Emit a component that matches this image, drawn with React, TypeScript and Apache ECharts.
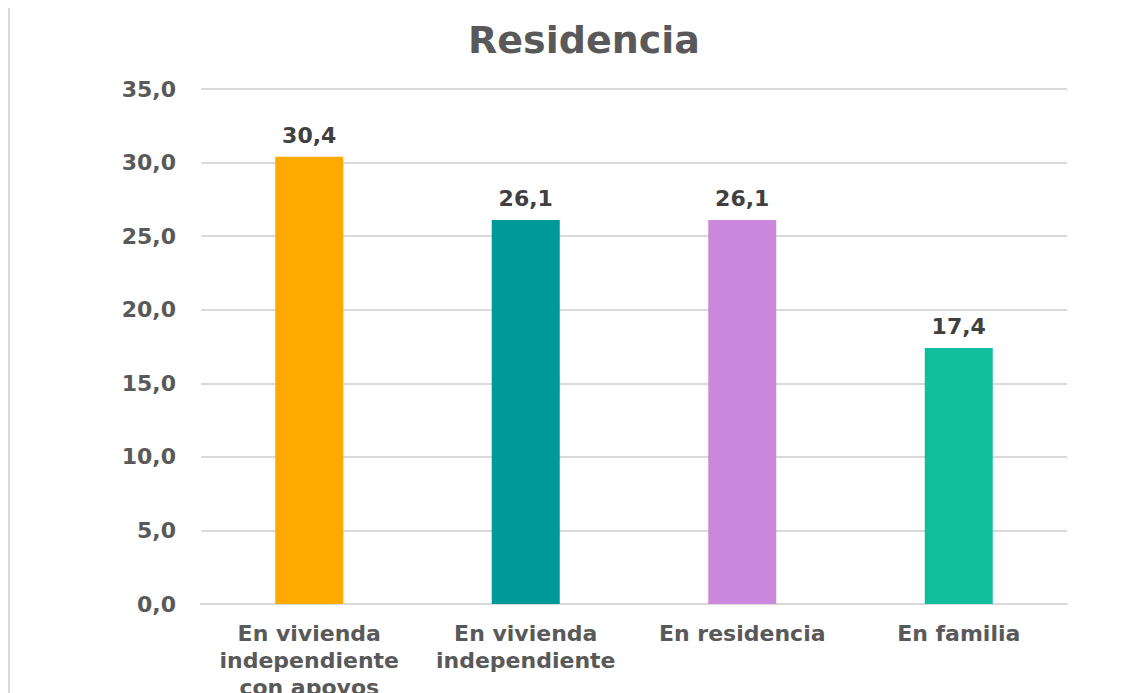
import React, { useEffect, useRef } from "react";
import * as echarts from "echarts";

const categories = [
  "En vivienda\nindependiente\ncon apoyos",
  "En vivienda\nindependiente",
  "En residencia",
  "En familia",
];
const values = [30.4, 26.1, 26.1, 17.4];
const colors = ["#FFAA00", "#009999", "#CC88DD", "#10BE9E"];
const yTicks = { min: 0, max: 35, interval: 5 };
const title = "Residencia";

const fmt = (v: number) => v.toFixed(1).replace(".", ",");

export default function App() {
  const ref = useRef<HTMLDivElement>(null);
  useEffect(() => {
    if (!ref.current) return;
    const chart = echarts.init(ref.current, undefined, { renderer: "svg" });
    const font = "DejaVu Sans";
    chart.setOption({
      animation: false,
      backgroundColor: "#ffffff",
      title: {
        text: title,
        left: 579,
        textAlign: "center",
        top: 16,
        textStyle: { fontFamily: font, fontWeight: "bold", fontSize: 38, color: "#595959" },
      },
      graphic: [
        {
          type: "line",
          shape: { x1: 9, y1: 8, x2: 9, y2: 693 },
          style: { stroke: "#d9d9d9", lineWidth: 2 },
        },
      ],
      grid: {
        left: 201,
        right: 77,
        top: 89,
        bottom: 89,
        containLabel: false,
        outerBoundsMode: "none",
      },
      xAxis: {
        type: "category",
        data: categories,
        axisLine: { lineStyle: { color: "#d9d9d9", width: 2 } },
        axisTick: { show: false },
        axisLabel: {
          interval: 0,
          margin: 16,
          fontFamily: font,
          fontWeight: "bold",
          fontSize: 22,
          lineHeight: 27,
          color: "#595959",
        },
      },
      yAxis: {
        type: "value",
        min: yTicks.min,
        max: yTicks.max,
        interval: yTicks.interval,
        axisLine: { show: false },
        axisTick: { show: false },
        splitLine: { lineStyle: { color: "#d9d9d9", width: 2 } },
        axisLabel: {
          margin: 25,
          formatter: (v: number) => fmt(v),
          fontFamily: font,
          fontWeight: "bold",
          fontSize: 22,
          color: "#595959",
        },
      },
      series: [
        {
          type: "bar",
          barWidth: 68,
          data: values.map((v, i) => ({ value: v, itemStyle: { color: colors[i] } })),
          label: {
            show: true,
            position: "top",
            distance: 10,
            formatter: (p: any) => fmt(p.value),
            fontFamily: font,
            fontWeight: "bold",
            fontSize: 22,
            color: "#404040",
          },
        },
      ],
    });
    return () => chart.dispose();
  }, []);
  return (
    <div
      ref={ref}
      style={{ position: "fixed", left: 0, top: 0, width: 1144, height: 693 }}
    />
  );
}
